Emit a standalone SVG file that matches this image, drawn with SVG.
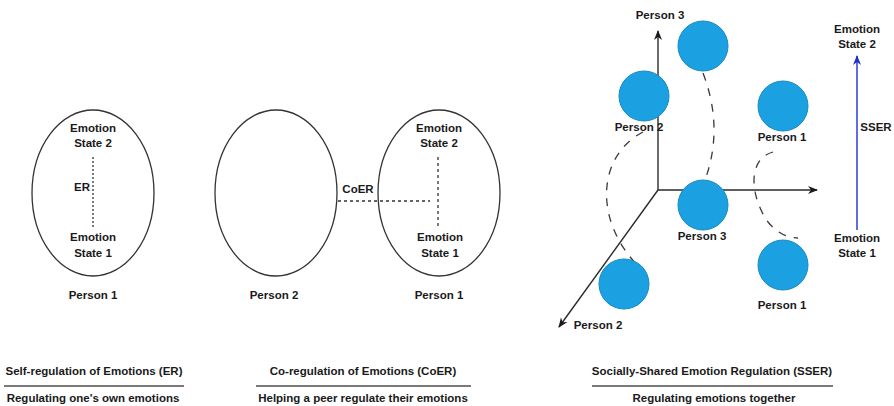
<svg xmlns="http://www.w3.org/2000/svg" width="894" height="406" viewBox="0 0 894 406">
<defs>
<style>
text{font-family:"Liberation Sans",Arial,sans-serif;font-weight:bold;font-size:11.5px;fill:#1a1a1a;text-anchor:middle}
.ell{fill:none;stroke:#333;stroke-width:1.3}
.dot{fill:none;stroke:#333;stroke-width:1.3;stroke-dasharray:2 2}
.dash{fill:none;stroke:#333;stroke-width:1.3;stroke-dasharray:3 3}
.curve{fill:none;stroke:#3a3a3a;stroke-width:1.3;stroke-dasharray:8 8}
.axis{fill:none;stroke:#2a2a2a;stroke-width:1.4}
.ball{fill:#1ba1e2;stroke:#1889c0;stroke-width:1}
.rule{stroke:#7a7a7a;stroke-width:2}
.cap{font-weight:normal;font-size:11.5px}
</style>
<marker id="ak" viewBox="0 0 10 10" refX="9" refY="5" markerWidth="10" markerHeight="10" markerUnits="userSpaceOnUse" orient="auto">
<path d="M0,1 L10,5 L0,9 L3,5 Z" fill="#1a1a1a"/>
</marker>
<marker id="ab" viewBox="0 0 10 10" refX="9" refY="5" markerWidth="10" markerHeight="10" markerUnits="userSpaceOnUse" orient="auto">
<path d="M0,1 L10,5 L0,9 L3,5 Z" fill="#1f2fd0"/>
</marker>
</defs>
<rect width="894" height="406" fill="#fff"/>

<g id="er">
<ellipse class="ell" cx="93" cy="193" rx="61" ry="83"/>
<text x="93" y="132">Emotion</text>
<text x="93" y="147">State 2</text>
<text x="82" y="191">ER</text>
<text x="93" y="241">Emotion</text>
<text x="93" y="257">State 1</text>
<text x="93" y="299">Person 1</text>
</g>

<g id="coer-p2">
<ellipse class="ell" cx="276" cy="193" rx="61" ry="83"/>
<text x="274" y="299">Person 2</text>
</g>

<g id="coer-p1">
<ellipse class="ell" cx="439" cy="193" rx="61" ry="83"/>
<text x="439" y="132">Emotion</text>
<text x="439" y="147">State 2</text>
<text x="358" y="193">CoER</text>
<text x="440" y="241">Emotion</text>
<text x="440" y="257">State 1</text>
<text x="439" y="299">Person 1</text>
</g>

<g id="connectors">
<line class="dot" x1="93" y1="157" x2="93" y2="227"/>
<line class="dash" x1="438" y1="157" x2="438" y2="227"/>
<line class="dash" x1="338" y1="201" x2="430" y2="201"/>
<line class="axis" x1="658" y1="190" x2="658" y2="31" marker-end="url(#ak)"/>
<line class="axis" x1="658" y1="190" x2="817" y2="190" marker-end="url(#ak)"/>
<line class="axis" x1="658" y1="190" x2="559" y2="327" marker-end="url(#ak)"/>
<path class="curve" d="M703 73 Q724 128 705 180"/>
<path class="curve" d="M643 132 C598 155 592 220 640 268"/>
<path class="curve" d="M773 152 C745 160 752 200 768 222 C777 233 788 238 798 238"/>
<line x1="857" y1="230" x2="857" y2="56" stroke="#1f2fd0" stroke-width="1.4" marker-end="url(#ab)"/>
</g>

<g id="sser">
<text x="660" y="19">Person 3</text>
<circle class="ball" cx="703" cy="46" r="25"/>
<circle class="ball" cx="644" cy="96" r="25"/>
<text x="639" y="131">Person 2</text>
<circle class="ball" cx="783" cy="106" r="25"/>
<text x="782" y="141">Person 1</text>
<circle class="ball" cx="703" cy="205" r="25"/>
<text x="702" y="240">Person 3</text>
<circle class="ball" cx="624" cy="284" r="25"/>
<circle class="ball" cx="783" cy="265" r="25"/>
<text x="782" y="309">Person 1</text>
<text x="598" y="329">Person 2</text>
<text x="857" y="33">Emotion</text>
<text x="857" y="48">State 2</text>
<text x="876" y="131">SSER</text>
<text x="857" y="242">Emotion</text>
<text x="857" y="257">State 1</text>
</g>

<g id="captions">
<text x="94" y="375">Self-regulation of Emotions (ER)</text>
<line class="rule" x1="4" y1="386" x2="184" y2="386"/>
<text x="93" y="402">Regulating one's own emotions</text>
<text x="363" y="375">Co-regulation of Emotions (CoER)</text>
<line class="rule" x1="256" y1="386" x2="471" y2="386"/>
<text x="363" y="402">Helping a peer regulate their emotions</text>
<text x="712" y="375">Socially-Shared Emotion Regulation (SSER)</text>
<line class="rule" x1="592" y1="386" x2="833" y2="386"/>
<text x="714" y="402">Regulating emotions together</text>
</g>
</svg>
